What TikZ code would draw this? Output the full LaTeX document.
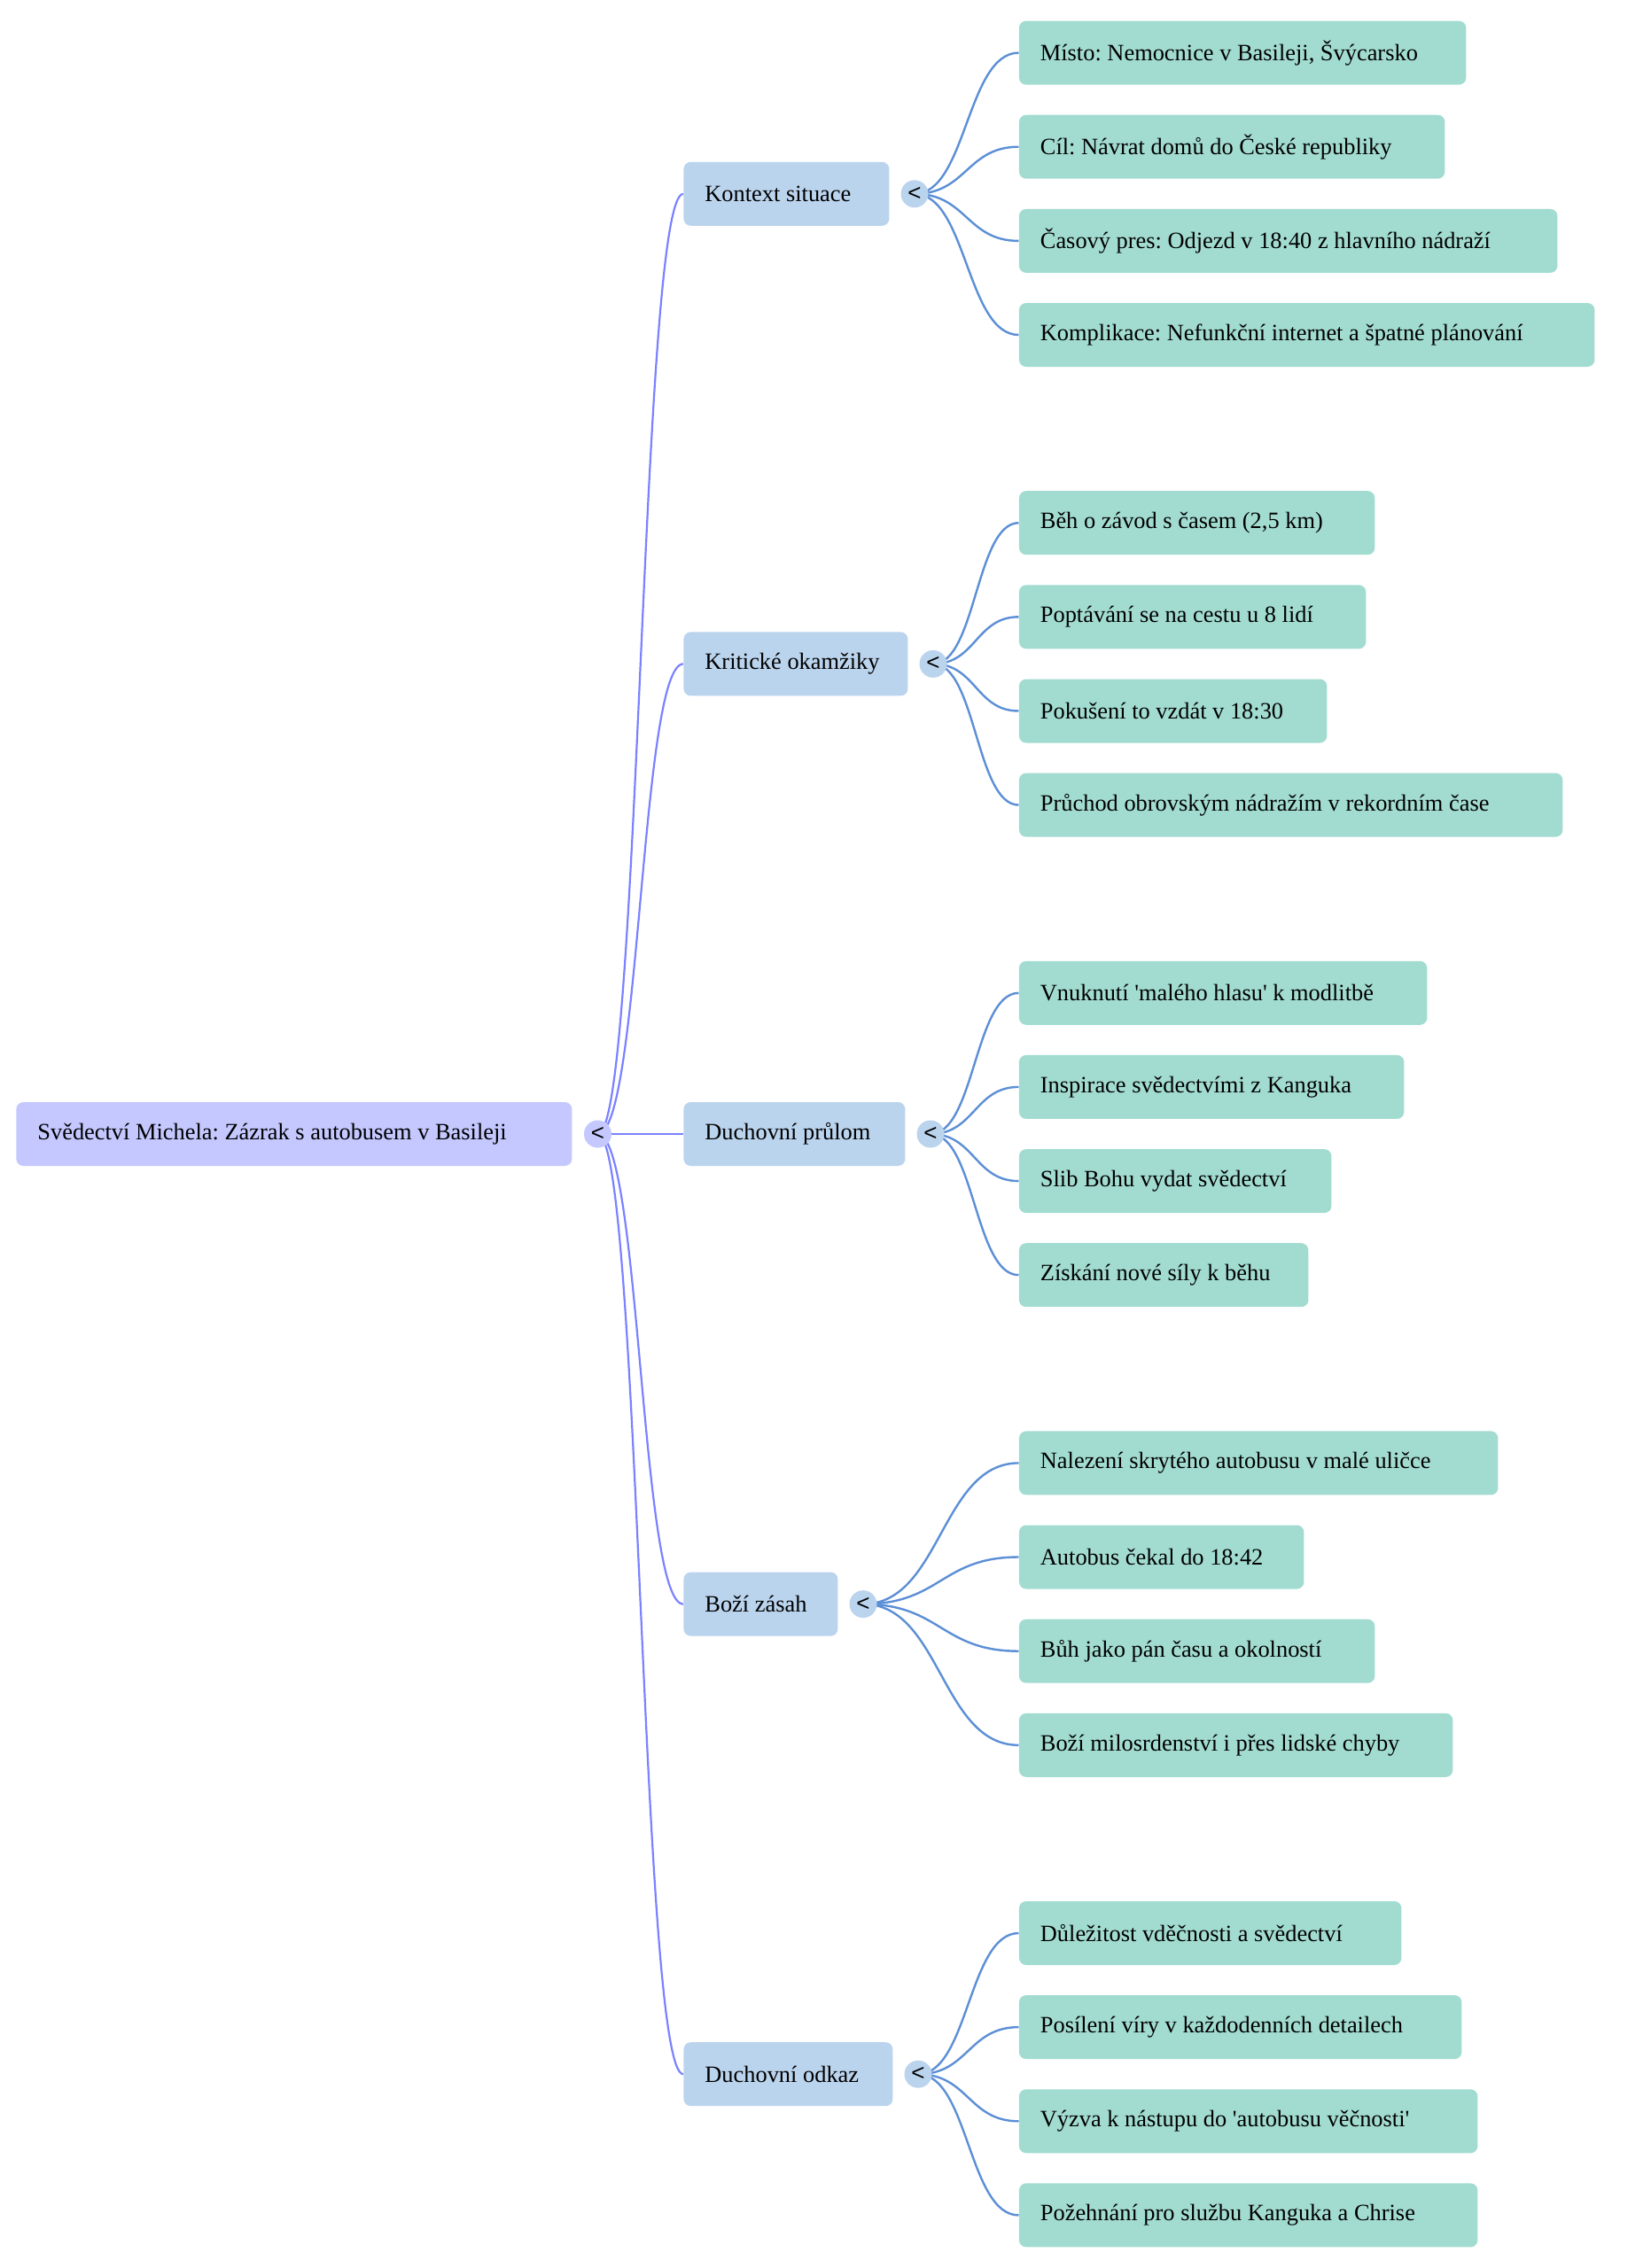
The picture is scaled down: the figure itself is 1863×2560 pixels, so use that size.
\documentclass[tikz,border=0pt]{standalone}
\usepackage{fontspec}
\setmainfont{Liberation Serif}[Ligatures=TeXOff]
\newfontfamily\chevfont{Liberation Sans}
\pgfdeclarelayer{bg}
\pgfsetlayers{bg,main}
\definecolor{rootfill}{RGB}{196,200,255}
\definecolor{midfill}{RGB}{187,212,238}
\definecolor{leaffill}{RGB}{162,220,209}
\definecolor{rootline}{RGB}{122,130,255}
\definecolor{leafline}{RGB}{92,143,214}
\newcommand\tbx[2]{\makebox[\dimexpr#1pt-24pt\relax][l]{#2}}
\frenchspacing
\begin{document}
\begin{tikzpicture}[x=0.5pt,y=-0.5pt,
  box/.style={anchor=west, rounded corners=4pt, minimum height=36pt, inner xsep=12pt, inner ysep=0pt, font=\fontsize{13.2}{16}\selectfont\frenchspacing, text=black},
  rootbox/.style={box, fill=rootfill},
  midbox/.style={box, fill=midfill},
  leafbox/.style={box, fill=leaffill},
  chev/.style={circle, minimum size=15.5pt, inner sep=0pt, font=\chevfont\fontsize{13}{13}\selectfont},
  rcirc/.style={chev, fill=rootfill},
  mcirc/.style={chev, fill=midfill},
  rlink/.style={draw=rootline, line width=1.1pt},
  llink/.style={draw=leafline, line width=1.2pt}
]
\begin{pgfonlayer}{bg}
\fill[white] (0,0) rectangle (1863,2560);
\end{pgfonlayer}
\useasboundingbox (0,0) rectangle (1863,2560);

% root
\node[rootbox] (root) at (18,1280) {\tbx{313.5}{Svědectví Michela: Zázrak s autobusem v Basileji}};
\node[rcirc] (rc) at (674.5,1280) {<};

% level 1
\node[midbox] (k1) at (771,218.8) {\tbx{116}{Kontext situace}};
\node[midbox] (k2) at (771,749.4) {\tbx{126.5}{Kritické okamžiky}};
\node[midbox] (k3) at (771,1280) {\tbx{125}{Duchovní průlom}};
\node[midbox] (k4) at (771,1810.6) {\tbx{87}{Boží zásah}};
\node[midbox] (k5) at (771,2341.2) {\tbx{118}{Duchovní odkaz}};

\node[mcirc] (c1) at (1032,218.8) {<};
\node[mcirc] (c2) at (1053,749.4) {<};
\node[mcirc] (c3) at (1050,1280) {<};
\node[mcirc] (c4) at (974,1810.6) {<};
\node[mcirc] (c5) at (1036,2341.2) {<};

% leaves group 1
\node[leafbox] (a1) at (1149.5,59.6) {\tbx{252.25}{Místo: Nemocnice v Basileji, Švýcarsko}};
\node[leafbox] (a2) at (1149.5,165.7) {\tbx{240.25}{Cíl: Návrat domů do České republiky}};
\node[leafbox] (a3) at (1149.5,271.9) {\tbx{303.75}{Časový pres: Odjezd v 18:40 z hlavního nádraží}};
\node[leafbox] (a4) at (1149.5,378.0) {\tbx{324.75}{Komplikace: Nefunkční internet a špatné plánování}};
% group 2
\node[leafbox] (b1) at (1149.5,590.2) {\tbx{200.75}{Běh o závod s časem (2,5 km)}};
\node[leafbox] (b2) at (1149.5,696.3) {\tbx{195.75}{Poptávání se na cestu u 8 lidí}};
\node[leafbox] (b3) at (1149.5,802.5) {\tbx{173.75}{Pokušení to vzdát v 18:30}};
\node[leafbox] (b4) at (1149.5,908.6) {\tbx{306.75}{Průchod obrovským nádražím v rekordním čase}};
% group 3
\node[leafbox] (d1) at (1149.5,1120.8) {\tbx{230.25}{Vnuknutí 'malého hlasu' k modlitbě}};
\node[leafbox] (d2) at (1149.5,1226.9) {\tbx{217.25}{Inspirace svědectvími z Kanguka}};
\node[leafbox] (d3) at (1149.5,1333.1) {\tbx{176.25}{Slib Bohu vydat svědectví}};
\node[leafbox] (d4) at (1149.5,1439.2) {\tbx{163.25}{Získání nové síly k běhu}};
% group 4
\node[leafbox] (e1) at (1149.5,1651.4) {\tbx{270.25}{Nalezení skrytého autobusu v malé uličce}};
\node[leafbox] (e2) at (1149.5,1757.5) {\tbx{160.75}{Autobus čekal do 18:42}};
\node[leafbox] (e3) at (1149.5,1863.7) {\tbx{200.75}{Bůh jako pán času a okolností}};
\node[leafbox] (e4) at (1149.5,1969.8) {\tbx{244.75}{Boží milosrdenství i přes lidské chyby}};
% group 5
\node[leafbox] (f1) at (1149.5,2182.0) {\tbx{215.75}{Důležitost vděčnosti a svědectví}};
\node[leafbox] (f2) at (1149.5,2288.1) {\tbx{249.75}{Posílení víry v každodenních detailech}};
\node[leafbox] (f3) at (1149.5,2394.3) {\tbx{258.75}{Výzva k nástupu do 'autobusu věčnosti'}};
\node[leafbox] (f4) at (1149.5,2500.4) {\tbx{258.75}{Požehnání pro službu Kanguka a Chrise}};

\begin{pgfonlayer}{bg}
\foreach \t in {k1,k2,k3,k4,k5}
  \draw[rlink] (rc.center) .. controls +(48.25,0) and +(-48.25,0) .. (\t.west);
\foreach \t in {a1,a2,a3,a4}
  \draw[llink] (c1.center) .. controls +(58.75,0) and +(-58.75,0) .. (\t.west);
\foreach \t in {b1,b2,b3,b4}
  \draw[llink] (c2.center) .. controls +(48.25,0) and +(-48.25,0) .. (\t.west);
\foreach \t in {d1,d2,d3,d4}
  \draw[llink] (c3.center) .. controls +(49.75,0) and +(-49.75,0) .. (\t.west);
\foreach \t in {e1,e2,e3,e4}
  \draw[llink] (c4.center) .. controls +(87.75,0) and +(-87.75,0) .. (\t.west);
\foreach \t in {f1,f2,f3,f4}
  \draw[llink] (c5.center) .. controls +(56.75,0) and +(-56.75,0) .. (\t.west);
\end{pgfonlayer}
\end{tikzpicture}
\end{document}
